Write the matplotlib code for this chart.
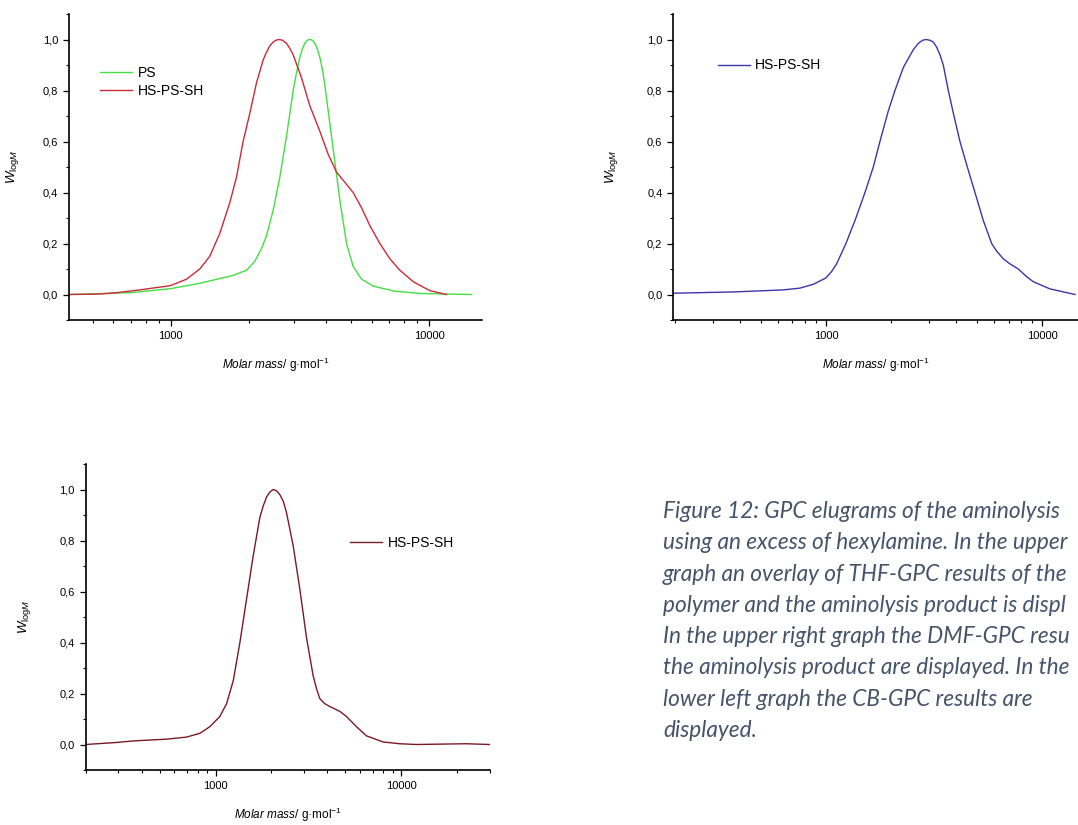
import matplotlib
matplotlib.use("Agg")
from matplotlib import pyplot as plt
from matplotlib.ticker import FuncFormatter, MultipleLocator, LogLocator, NullFormatter

plt.rcParams['font.family'] = ['Liberation Sans', 'DejaVu Sans']
plt.rcParams['mathtext.fontset'] = 'custom'
plt.rcParams['mathtext.rm'] = 'Liberation Sans'
plt.rcParams['mathtext.it'] = 'Liberation Sans:italic'
plt.rcParams['mathtext.bf'] = 'Liberation Sans:bold'

# upper left: THF-GPC, PS precursor vs aminolysis product
ps_M = [404, 531, 715, 1000, 1295, 1743, 1963, 2114, 2244, 2346, 2490, 2642, 2804, 2976,
        3065, 3158, 3233, 3302, 3372, 3452, 3535, 3609, 3685, 3774, 3866, 3947, 4126, 4313,
        4510, 4786, 5078, 5472, 6070, 7255, 9203, 14580]
ps_w = [0.0, 0.003, 0.008, 0.023, 0.044, 0.075, 0.095, 0.13, 0.18, 0.23, 0.33, 0.46, 0.62,
        0.80, 0.87, 0.93, 0.965, 0.985, 0.997, 1.0, 0.997, 0.985, 0.965, 0.93, 0.88, 0.82,
        0.67, 0.52, 0.37, 0.20, 0.11, 0.06, 0.033, 0.014, 0.004, 0.0]

thf_M = [404, 531, 616, 759, 1000, 1150, 1295, 1416, 1548, 1692, 1796, 1905, 2022, 2146,
         2278, 2346, 2417, 2490, 2565, 2627, 2705, 2804, 2888, 2976, 3205, 3452, 3774, 4064,
         4378, 4716, 5078, 5472, 5893, 6442, 7042, 7700, 8673, 10060, 11670]
thf_w = [0.0, 0.002, 0.007, 0.018, 0.035, 0.06, 0.10, 0.15, 0.24, 0.36, 0.46, 0.60, 0.71,
         0.83, 0.92, 0.95, 0.975, 0.99, 0.998, 1.0, 0.997, 0.985, 0.965, 0.94, 0.85, 0.74,
         0.64, 0.55, 0.48, 0.44, 0.40, 0.34, 0.27, 0.20, 0.14, 0.095, 0.05, 0.015, 0.0]

# upper right: DMF-GPC
dmf_M = [197, 373, 635, 758, 874, 1000, 1062, 1120, 1237, 1362, 1515, 1655, 1776, 1942,
         2084, 2278, 2533, 2672, 2798, 2899, 3025, 3135, 3248, 3365, 3486, 3677, 3906, 4163,
         4502, 4884, 5337, 5833, 6151, 6602, 7089, 7746, 8466, 9087, 10850, 14160]
dmf_w = [0.005, 0.01, 0.018, 0.025, 0.04, 0.065, 0.09, 0.12, 0.20, 0.29, 0.40, 0.50, 0.60,
         0.72, 0.80, 0.89, 0.96, 0.985, 0.997, 1.0, 0.997, 0.99, 0.97, 0.94, 0.90, 0.80, 0.70,
         0.60, 0.50, 0.40, 0.29, 0.20, 0.17, 0.14, 0.12, 0.10, 0.07, 0.05, 0.022, 0.0]

# lower left: CB-GPC
cb_M = [200, 293, 361, 545, 698, 824, 932, 1055, 1146, 1245, 1352, 1468, 1594, 1731, 1804,
        1880, 1960, 2042, 2128, 2218, 2311, 2408, 2616, 2841, 3085, 3351, 3491, 3639, 3871,
        4119, 4661, 5062, 5729, 6484, 7967, 9795, 12040, 22370, 29850]
cb_w = [0.0, 0.008, 0.014, 0.021, 0.029, 0.044, 0.07, 0.11, 0.16, 0.25, 0.40, 0.57, 0.74,
        0.89, 0.935, 0.97, 0.99, 1.0, 0.995, 0.98, 0.955, 0.91, 0.78, 0.61, 0.42, 0.27, 0.22,
        0.18, 0.16, 0.149, 0.13, 0.11, 0.07, 0.034, 0.01, 0.003, 0.0, 0.003, 0.0]

# caption lines as far as they are visible in the page screenshot
caption = [
    "Figure 12: GPC elugrams of the aminolysis",
    "using an excess of hexylamine. In the upper",
    "graph an overlay of THF-GPC results of the",
    "polymer and the aminolysis product is displ",
    "In the upper right graph the DMF-GPC resu",
    "the aminolysis product are displayed. In the",
    "lower left graph the CB-GPC results are",
    "displayed.",
]


def style_axis(ax, xlim):
    ax.set_xscale('log')
    ax.set_xlim(*xlim)
    ax.set_ylim(-0.1, 1.1)
    ax.spines[['top', 'right']].set_visible(False)
    for s in ('left', 'bottom'):
        ax.spines[s].set_linewidth(1.2)
    ax.yaxis.set_major_locator(MultipleLocator(0.2))
    ax.yaxis.set_minor_locator(MultipleLocator(0.1))
    ax.yaxis.set_major_formatter(FuncFormatter(lambda v, p: f"{v:.1f}".replace('.', ',')))
    ax.xaxis.set_major_locator(LogLocator(base=10))
    ax.xaxis.set_minor_locator(LogLocator(base=10, subs=range(2, 10)))
    ax.xaxis.set_major_formatter(FuncFormatter(lambda v, p: f"{int(round(v))}"))
    ax.xaxis.set_minor_formatter(NullFormatter())
    ax.tick_params(which='major', direction='out', length=4.3, width=0.9, labelsize=8, pad=3.5)
    ax.tick_params(which='minor', direction='out', length=2.3, width=0.8)
    ax.set_ylabel(r'$W_{\mathrm{log}M}$', fontsize=9.5)
    ax.set_xlabel(r'$\mathit{Molar\ mass/}$ g·mol$^{-1}$', fontsize=8.5, va='top')


fig = plt.figure(figsize=(10.78, 8.25), dpi=100)

ax1 = fig.add_axes([69 / 1078, 1 - 320 / 825, 413 / 1078, 306 / 825])
ax1.plot(ps_M, ps_w, color='#44dd44', lw=1.0, label='PS')
ax1.plot(thf_M, thf_w, color='#cc2a35', lw=1.0, label='HS-PS-SH')
style_axis(ax1, (404, 16000))
ax1.yaxis.set_label_coords(-0.116, 0.5)
ax1.xaxis.set_label_coords(0.5, -0.118)
ax1.legend(loc='upper left', bbox_to_anchor=(0.075, 0.83), frameon=False, fontsize=10,
           handlelength=2.3, handletextpad=0.4, labelspacing=0.3, borderpad=0, borderaxespad=0)

ax2 = fig.add_axes([673.3 / 1078, 1 - 320 / 825, (1078 - 673.3) / 1078, 306 / 825])
ax2.plot(dmf_M, dmf_w, color='#3a36a8', lw=1.0, label='HS-PS-SH')
style_axis(ax2, (197, 14620))
ax2.yaxis.set_label_coords(-0.132, 0.5)
ax2.xaxis.set_label_coords(0.5, -0.118)
ax2.legend(loc='upper left', bbox_to_anchor=(0.11, 0.855), frameon=False, fontsize=10,
           handlelength=2.3, handletextpad=0.4, borderpad=0, borderaxespad=0)

ax3 = fig.add_axes([85.7 / 1078, 1 - 770 / 825, 404.3 / 1078, 306 / 825])
ax3.plot(cb_M, cb_w, color='#7a1a24', lw=1.0, label='HS-PS-SH')
style_axis(ax3, (200, 30000))
ax3.yaxis.set_label_coords(-0.13, 0.5)
ax3.xaxis.set_label_coords(0.5, -0.118)
ax3.legend(loc='upper left', bbox_to_anchor=(0.654, 0.765), frameon=False, fontsize=10,
           handlelength=2.3, handletextpad=0.4, borderpad=0, borderaxespad=0)

for i, line in enumerate(caption):
    fig.text(663 / 1078, 1 - (518 + 31.3 * i) / 825, line, fontfamily='Lato', style='italic',
             fontsize=16.3, color='#44546a', va='baseline', ha='left')

fig.savefig('out.png', dpi=100)
